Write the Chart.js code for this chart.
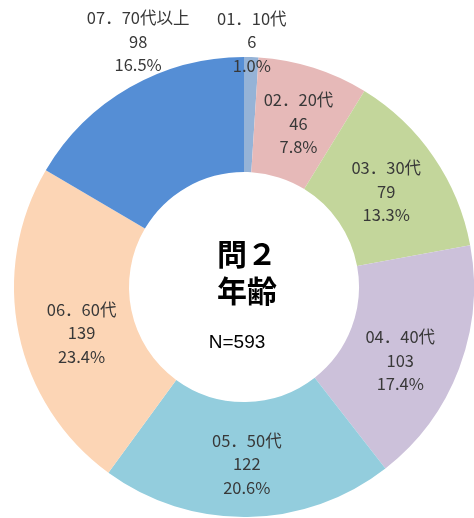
<!DOCTYPE html>
<html>
<head>
<meta charset="utf-8">
<script src="https://cdn.jsdelivr.net/npm/chart.js@4"></script>
<style>
    html, body { margin: 0; padding: 0; background: #fff; }
    #wrap { width: 474px; height: 518px; position: relative; }
</style>
</head>
<body>
<div id="wrap"><canvas id="grafico"></canvas></div>
<script>
const categorias = ['01．10代', '02．20代', '03．30代', '04．40代', '05．50代', '06．60代', '07．70代以上'];
const valores = [6, 46, 79, 103, 122, 139, 98];
const percentuais = ['1.0%', '7.8%', '13.3%', '17.4%', '20.6%', '23.4%', '16.5%'];
const cores = ['#95B3D7', '#E6B9B8', '#C3D69B', '#CCC1DA', '#93CDDD', '#FCD5B5', '#558ED5'];
const titulo = ['問２', '年齢'];
const total = 'N=593';

// raio relativo ao raio externo e deslocamento em px para cada rótulo
const posRotulos = [
    { r: 1.065, dx: 0, dy: 0 },
    { r: 0.755, dx: 2, dy: 2 },
    { r: 0.75, dx: 0, dy: 2 },
    { r: 0.75, dx: -5, dy: 12 },
    { r: 0.77, dx: 0, dy: 0 },
    { r: 0.73, dx: 2, dy: 12 },
    { r: 1.05, dx: 14, dy: -36 }
];

const rotulosPlugin = {
    id: 'rotulos',
    afterDatasetsDraw(chart) {
        const ctx = chart.ctx;
        const meta = chart.getDatasetMeta(0);
        ctx.save();
        ctx.fillStyle = '#383838';
        ctx.textAlign = 'center';
        ctx.textBaseline = 'middle';
        ctx.font = '16.5px "Noto Sans CJK JP"';
        meta.data.forEach((arc, i) => {
            const p = arc.getProps(['x', 'y', 'startAngle', 'endAngle', 'outerRadius'], true);
            const ang = (p.startAngle + p.endAngle) / 2;
            const pos = posRotulos[i];
            const x = p.x + Math.cos(ang) * p.outerRadius * pos.r + pos.dx;
            const y = p.y + Math.sin(ang) * p.outerRadius * pos.r + pos.dy;
            const linhas = [categorias[i], String(valores[i]), percentuais[i]];
            linhas.forEach((t, k) => {
                ctx.fillText(t, x, y + (k - 1) * 23.5);
            });
        });

        // texto central
        const cx = meta.data[0].x;
        const cy = meta.data[0].y;
        ctx.fillStyle = '#000';
        ctx.font = 'bold 30px "Noto Sans CJK JP"';
        ctx.fillText(titulo[0], cx + 3, cy - 33);
        ctx.fillText(titulo[1], cx + 3, cy + 4);
        ctx.font = '19px "Liberation Sans"';
        ctx.fillText(total, cx - 7, cy + 56);
        ctx.restore();
    }
};

new Chart(document.getElementById('grafico').getContext('2d'), {
    type: 'doughnut',
    data: {
        labels: categorias,
        datasets: [{
            data: valores,
            backgroundColor: cores,
            borderWidth: 0
        }]
    },
    options: {
        responsive: true,
        maintainAspectRatio: false,
        animation: false,
        cutout: '50%',
        layout: { padding: { left: 14, right: 0, top: 57, bottom: 1 } },
        plugins: {
            legend: { display: false },
            tooltip: { enabled: false }
        }
    },
    plugins: [rotulosPlugin]
});
</script>
</body>
</html>
